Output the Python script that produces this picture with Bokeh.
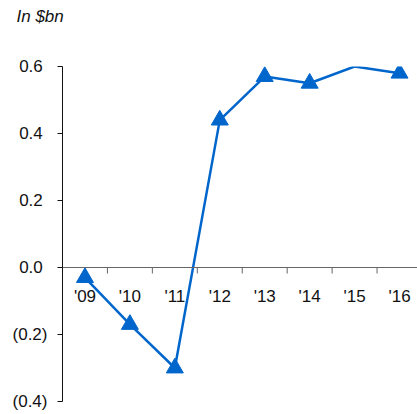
import math
from bokeh.plotting import figure
from bokeh.models import ColumnDataSource, Range1d, FixedTicker, Span, CDSView, BooleanFilter
from bokeh.core.properties import value
from bokeh.embed import file_html
from bokeh.resources import INLINE

# Annual values, $bn
years = ["'09", "'10", "'11", "'12", "'13", "'14", "'15", "'16"]
values = [-0.03, -0.17, -0.30, 0.44, 0.57, 0.55, 0.60, 0.58]
has_marker = [True, True, True, True, True, True, False, True]

y_ticks = [-0.4, -0.2, 0.0, 0.2, 0.4, 0.6]
# positives carry a trailing punctuation space so digits line up with "(x.x)"
y_tick_labels = ["(0.4)", "(0.2)", "0.0\u2008", "0.2\u2008", "0.4\u2008", "0.6\u2008"]

FONT = "Liberation Sans"
FONT_SIZE = "17px"
BLUE = "#0066CC"
INK = "#111111"

idx = list(range(len(years)))
src = ColumnDataSource(dict(x=idx, y=values, label=years))

# two blank trailing lines lift the caption towards the top edge
p = figure(width=417, height=414, output_backend="svg", toolbar_location=None,
           x_range=Range1d(-0.5, 7.4), y_range=Range1d(-0.4, 0.6),
           x_axis_type=None,
           min_border_left=62, min_border_right=0, min_border_top=66, min_border_bottom=13,
           title="In $bn\n\u00a0\n\u00a0")
p.outline_line_color = None
p.grid.visible = False
p.background_fill_color = "white"
p.border_fill_color = "white"

p.title.text_font = FONT
p.title.text_font_size = FONT_SIZE
p.title.text_font_style = "italic"
p.title.text_color = INK
p.title.text_line_height = 1.05
p.title.align = "left"
p.title.vertical_align = "bottom"
p.title.offset = -46
p.title.standoff = 2

ya = p.yaxis[0]
ya.ticker = FixedTicker(ticks=y_ticks)
ya.major_label_overrides = {t: l for t, l in zip(y_ticks, y_tick_labels)}
ya.major_label_text_font = FONT
ya.major_label_text_font_size = FONT_SIZE
ya.major_label_text_color = INK
ya.major_tick_out = 5
ya.major_tick_in = 0
ya.minor_tick_out = 0
ya.minor_tick_in = 0
ya.major_label_standoff = 10
ya.axis_line_color = INK
ya.major_tick_line_color = INK

# zero line acting as the category axis, ticks between categories
p.add_layout(Span(location=0, dimension="width", line_color="#666666", line_width=1))
bounds = [i + 0.5 for i in idx[:-1]]
p.ray(x=bounds, y=[0] * len(bounds), length=6, length_units="screen",
      angle=-math.pi / 2, line_color="#666666", line_width=1)
p.text(x="x", y=0, text="label", source=src, y_offset=19,
       text_font=value(FONT), text_font_size=FONT_SIZE, text_color=INK,
       text_align="center", text_baseline="top")

p.line("x", "y", source=src, line_color=BLUE, line_width=2.5)
view = CDSView(filter=BooleanFilter(has_marker))
p.scatter("x", "y", source=src, view=view, marker="triangle", size=17,
          fill_color=BLUE, line_color=BLUE)

open("out.html", "w").write(file_html(p, INLINE))
